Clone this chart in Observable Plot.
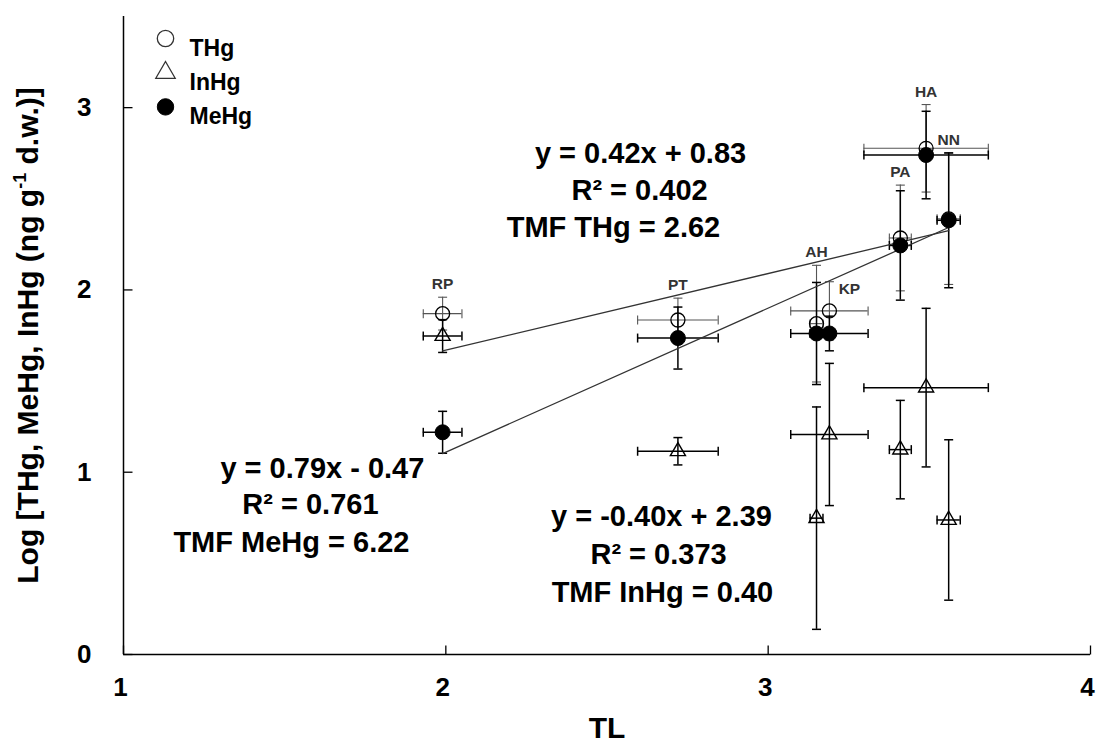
<!DOCTYPE html>
<html><head><meta charset="utf-8">
<script src="https://cdn.jsdelivr.net/npm/d3@7"></script>
<script src="https://cdn.jsdelivr.net/npm/@observablehq/plot@0.6"></script>
<style>body{margin:0;background:#fff}</style>
</head><body><div id="chart"></div>
<script>
// ---- data ----
const species = ["RP","PT","AH","KP","PA","HA","NN"];
const trophicLevel   = [1.99, 2.72, 3.15, 3.19, 3.41, 3.49, 3.56];
const trophicLevelSD = [0.06, 0.125, 0.02, 0.12, 0.034, 0.193, 0.036];
const thgMean  = [1.87, 1.835, 1.815, 1.885, 2.285, 2.777, 2.39];
const thgSD    = [0.09, 0.12, 0.32, 0.16, 0.29, 0.24, 0.36];
const inhgMean = [1.747, 1.115, 0.748, 1.207, 1.124, 1.464, 0.738];
const inhgSD   = [0.09, 0.075, 0.61, 0.39, 0.27, 0.435, 0.44];
const mehgMean = [1.219, 1.736, 1.761, 1.761, 2.244, 2.74, 2.382];
const mehgSD   = [0.115, 0.17, 0.28, 0.095, 0.30, 0.24, 0.37];
const seriesNames = ["THg","InHg","MeHg"];
const regSeries = ["THg","MeHg"];
const regSlope = [0.42, 0.79];
const regIntercept = [0.83, -0.47];
const eqTHg  = ["y = 0.42x + 0.83", "R² = 0.402", "TMF THg = 2.62"];
const eqMeHg = ["y = 0.79x - 0.47", "R² = 0.761", "TMF MeHg = 6.22"];
const eqInHg = ["y = -0.40x + 2.39", "R² = 0.373", "TMF InHg = 0.40"];
const xTicks = [1,2,3,4];
const yTicks = [0,1,2,3];
const xLabel = "TL";
const yLabelParts = ["Log [THg, MeHg, InHg (ng g", "-1", " d.w.)]"];

// ---- build tables ----
const means = {THg: thgMean, InHg: inhgMean, MeHg: mehgMean};
const sds = {THg: thgSD, InHg: inhgSD, MeHg: mehgSD};
const rows = [];
for (const s of seriesNames) species.forEach((sp, i) => rows.push({
  sp, series: s, tl: trophicLevel[i], tlsd: trophicLevelSD[i], v: means[s][i], sd: sds[s][i]
}));
const spRows = species.map((sp, i) => ({
  sp, tl: trophicLevel[i],
  top: d3.max(seriesNames, s => means[s][i] + sds[s][i])
}));
const tlExtent = d3.extent(trophicLevel);
const regLines = regSeries.flatMap((s, k) => tlExtent.map(x => ({series: s, x, y: regSlope[k] * x + regIntercept[k]})));

const capH = {draw(c){ c.moveTo(-4.5,0); c.lineTo(4.5,0); }};
const capV = {draw(c){ c.moveTo(0,-4.5); c.lineTo(0,4.5); }};
const tickUp = {draw(c){ c.moveTo(0,0); c.lineTo(0,-9); }};
const tickRight = {draw(c){ c.moveTo(0,0); c.lineTo(9,0); }};

const barColor = s => s === "THg" ? "#555" : "#000";
const barWidth = s => s === "THg" ? 1.1 : 1.5;

function errorMarks(s) {
  const d = rows.filter(r => r.series === s);
  const o = {stroke: barColor(s), strokeWidth: barWidth(s)};
  return [
    Plot.ruleX(d, {x: "tl", y1: r => r.v - r.sd, y2: r => r.v + r.sd, ...o}),
    Plot.ruleY(d, {y: "v", x1: r => r.tl - r.tlsd, x2: r => r.tl + r.tlsd, ...o}),
    Plot.dot(d, {x: "tl", y: r => r.v - r.sd, symbol: capH, fill: "none", ...o}),
    Plot.dot(d, {x: "tl", y: r => r.v + r.sd, symbol: capH, fill: "none", ...o}),
    Plot.dot(d, {x: r => r.tl - r.tlsd, y: "v", symbol: capV, fill: "none", ...o}),
    Plot.dot(d, {x: r => r.tl + r.tlsd, y: "v", symbol: capV, fill: "none", ...o})
  ];
}

const symStyle = {
  THg:  {symbol: "circle", r: 7, fill: "none", stroke: "#000", strokeWidth: 1.3},
  InHg: {symbol: "triangle", r: 5.6, fill: "none", stroke: "#000", strokeWidth: 1.4},
  MeHg: {symbol: "circle", r: 7.5, fill: "#000", stroke: "#000", strokeWidth: 1}
};
const legStyle = {
  THg:  {symbol: "circle", r: 8.2, fill: "none", stroke: "#333", strokeWidth: 1.3},
  InHg: {symbol: "triangle", r: 7.2, fill: "none", stroke: "#333", strokeWidth: 1.3},
  MeHg: {symbol: "circle", r: 8.2, fill: "#000", stroke: "#000", strokeWidth: 1}
};

const eqFont = {fontSize: 29, fontWeight: "bold", fill: "#000", lineAnchor: "bottom", textAnchor: "middle"};
function eqLine(t, x, y) { return Plot.text([t], {text: d => d, x: () => x, y: () => y, ...eqFont}); }
const tickFont = {fontSize: 26, fontWeight: "bold", fill: "#000"};

const plot = Plot.plot({
  width: 1097, height: 742,
  marginLeft: 123, marginRight: 7, marginTop: 16, marginBottom: 88,
  x: {domain: [1, 4], axis: null},
  y: {domain: [0, 3.5], axis: null},
  style: {fontFamily: "'Liberation Sans', Arial, sans-serif", background: "#fff", color: "#000"},
  marks: [
    Plot.text(xTicks, {x: d => d, y: () => 0, dy: 33, dx: -3, text: d => String(d), ...tickFont}),
    Plot.text(yTicks, {x: () => 1, y: d => d, dx: -32, textAnchor: "end", text: d => String(d), ...tickFont}),
    Plot.dot(xTicks, {x: d => d, y: () => 0, symbol: tickUp, stroke: "#000", strokeWidth: 1.3, fill: "none"}),
    Plot.dot(yTicks, {x: () => 1, y: d => d, symbol: tickRight, stroke: "#000", strokeWidth: 1.3, fill: "none"}),
    Plot.ruleY([0], {stroke: "#000", strokeWidth: 1.5}),
    Plot.ruleX([1], {stroke: "#000", strokeWidth: 1.5}),
    ...errorMarks("THg"),
    ...errorMarks("InHg"),
    ...errorMarks("MeHg"),
    Plot.line(regLines, {x: "x", y: "y", z: "series", stroke: "#333", strokeWidth: 1.3}),
    ...seriesNames.map(s => Plot.dot(rows.filter(r => r.series === s), {x: "tl", y: "v", ...symStyle[s]})),
    Plot.text(spRows.filter(d => d.sp !== "KP"), {x: "tl", y: "top", text: "sp", dy: -13, fontSize: 15.5, fontWeight: "bold", fill: "#333"}),
    Plot.text(spRows.filter(d => d.sp === "KP"), {x: "tl", y: "top", text: "sp", dx: 20, dy: 7, fontSize: 15.5, fontWeight: "bold", fill: "#333"}),
    eqLine(eqTHg[0], 2.604, 2.694), eqLine(eqTHg[1], 2.601, 2.492), eqLine(eqTHg[2], 2.520, 2.292),
    eqLine(eqMeHg[0], 1.617, 0.968), eqLine(eqMeHg[1], 1.580, 0.771), eqLine(eqMeHg[2], 1.521, 0.564),
    eqLine(eqInHg[0], 2.669, 0.705), eqLine(eqInHg[1], 2.660, 0.496), eqLine(eqInHg[2], 2.672, 0.288),
    ...seriesNames.flatMap((s, i) => [
      Plot.dot([s], {frameAnchor: "top-left", dx: 42, dy: 22 + i * 34.2, ...legStyle[s]}),
      Plot.text([s], {frameAnchor: "top-left", dx: 66, dy: 23 + i * 34.2, text: d => d, textAnchor: "start", fontSize: 23, fontWeight: "bold", fill: "#000"})
    ]),
    Plot.text([xLabel], {frameAnchor: "bottom", dy: 83, text: d => d, lineAnchor: "bottom", fontSize: 30, fontWeight: "bold", fill: "#000"}),
    Plot.text([yLabelParts.join("")], {frameAnchor: "left", dx: -86, rotate: -90, text: d => d, lineAnchor: "bottom", textAnchor: "middle", fontSize: 30, fontWeight: "bold", fill: "#000"})
  ]
});
document.getElementById("chart").appendChild(plot);

// superscript in the y-axis label
const full = yLabelParts.join("");
d3.select(plot).selectAll("text").filter(function(){ return this.textContent === full; }).each(function(){
  const t = d3.select(this);
  t.text("");
  t.append("tspan").text(yLabelParts[0]);
  t.append("tspan").attr("dy", -12).attr("font-size", 18).text(yLabelParts[1]);
  t.append("tspan").attr("dy", 12).text(yLabelParts[2]);
});
</script>
</body></html>
